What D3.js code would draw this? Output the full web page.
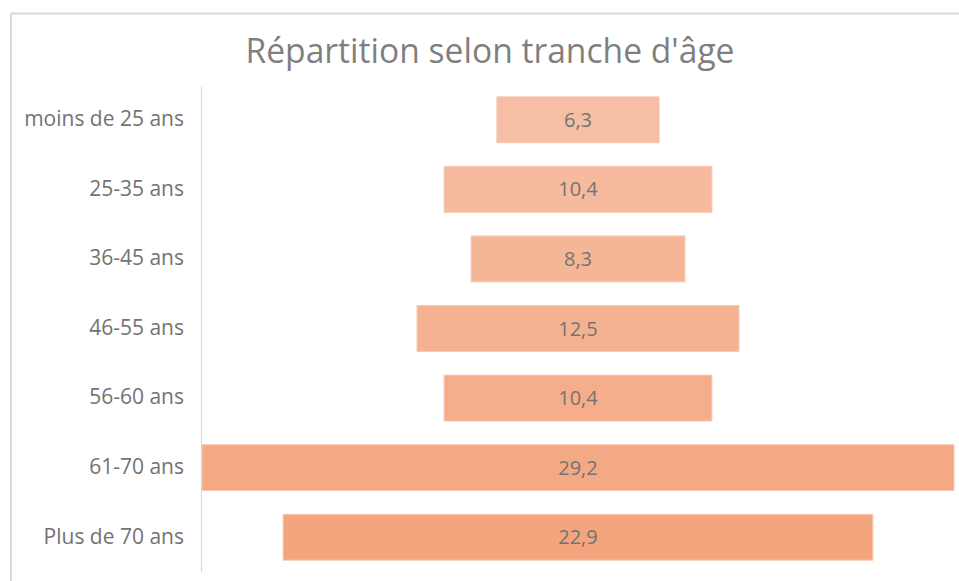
<!DOCTYPE html>
<html><head><meta charset="utf-8">
<script src="https://cdn.jsdelivr.net/npm/d3@7"></script>
<style>body{margin:0;background:#fff;}svg{display:block;}</style>
</head><body>
<svg id="c" width="959" height="581"></svg>
<script>
const categories = ["moins de 25 ans","25-35 ans","36-45 ans","46-55 ans","56-60 ans","61-70 ans","Plus de 70 ans"];
const values = [6.3,10.4,8.3,12.5,10.4,29.2,22.9];
const title = "Répartition selon tranche d'âge";

(function(){
const svg = d3.select("#c");
const W = 959, H = 581;
const mLeft = 202, mRight = 954, mTop = 85, mBottom = 572;
const cx = (mLeft + mRight) / 2;
const font = "'Open Sans', 'Noto Sans', sans-serif";

// frame
svg.append("line").attr("x1",11).attr("x2",W).attr("y1",13.5).attr("y2",13.5).attr("stroke","#d9d9d9").attr("stroke-width",2);
svg.append("line").attr("x1",11).attr("x2",11).attr("y1",13).attr("y2",H).attr("stroke","#d9d9d9").attr("stroke-width",2);

svg.append("text").attr("x",490).attr("y",63).attr("text-anchor","middle")
  .attr("font-family",font).attr("font-size",34)
  .attr("fill","#7f7f7f").attr("textLength",489).attr("lengthAdjust","spacingAndGlyphs").text(title);

const y = d3.scaleBand().domain(categories).range([mTop, mBottom]).paddingInner(0.34).paddingOuter(0.17);
const w = d3.scaleLinear().domain([0, d3.max(values)]).range([0, mRight - mLeft]);
const col = d3.scaleLinear().domain([0, categories.length-1]).range(["#f6bea5","#f4a57e"]);

const data = categories.map((c,i)=>({c, v: values[i], i}));

svg.append("line").attr("x1",201.5).attr("x2",201.5).attr("y1",87).attr("y2",572)
  .attr("stroke","#d9d9d9").attr("stroke-width",1.2);

const g = svg.append("g");
g.selectAll("rect").data(data).join("rect")
  .attr("x", d => cx - w(d.v)/2).attr("width", d => w(d.v))
  .attr("y", d => y(d.c)).attr("height", y.bandwidth())
  .attr("fill", d => col(d.i)).attr("stroke","#f8c9b3").attr("stroke-width",1);

g.selectAll("text.v").data(data).join("text").attr("class","v")
  .attr("x", cx).attr("y", d => y(d.c) + y.bandwidth()/2 + 7)
  .attr("text-anchor","middle").attr("font-family",font)
  .attr("font-size",20).attr("fill","#737373")
  .text(d => d3.format(".1f")(d.v).replace(".", ","));

const axis = d3.axisLeft(y).tickSize(0).tickPadding(18);
const ag = svg.append("g").attr("transform",`translate(${mLeft},0)`).call(axis);
ag.select(".domain").remove();
ag.selectAll("text").attr("font-family",font).attr("font-size",21).attr("fill","#737373").attr("dy","0.3em");
})();
</script>
</body></html>
